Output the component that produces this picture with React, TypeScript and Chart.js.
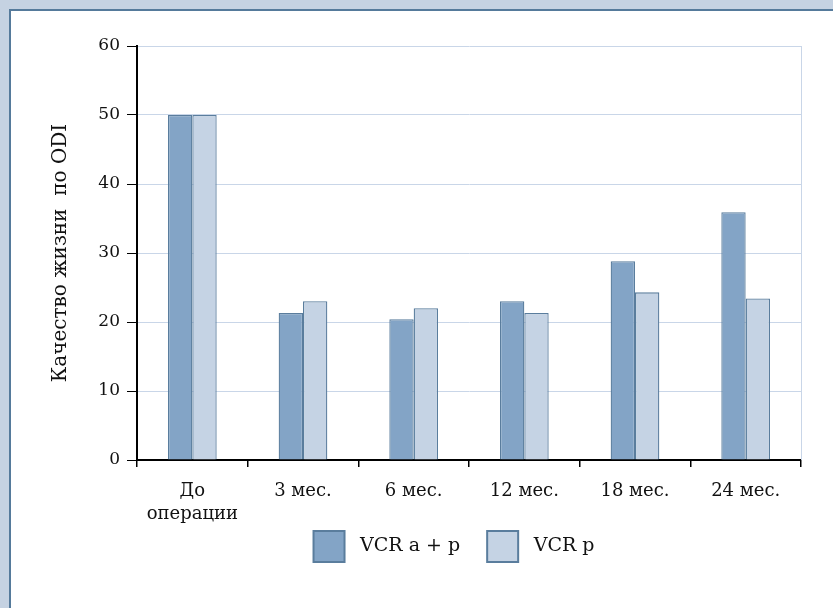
import React, { useEffect, useRef } from "react";
import { Chart, registerables } from "chart.js";

Chart.register(...registerables);

const categories: (string | string[])[] = [["До", "операции"], "3 мес.", "6 мес.", "12 мес.", "18 мес.", "24 мес."];
const seriesAP = [50, 21.3, 20.4, 23.0, 28.8, 35.9];
const seriesP = [50, 23.0, 22.0, 21.3, 24.3, 23.4];
const seriesNames = ["VCR a + p", "VCR p"];
const yTitle = "Качество жизни  по ODI";
const yMin = 0;
const yMax = 60;
const yStep = 10;

const FONT = "'DejaVu Serif', serif";
const TEXT = "#111";
const GRID = "#c9d6e8";
const LEGEND_SHIFT = 48;

const rightLine = {
  id: "rightLine",
  beforeDatasetsDraw(chart: any) {
    const { ctx, chartArea } = chart;
    ctx.save();
    ctx.strokeStyle = GRID;
    ctx.lineWidth = 1;
    ctx.beginPath();
    ctx.moveTo(Math.round(chartArea.right) + 0.5, chartArea.top);
    ctx.lineTo(Math.round(chartArea.right) + 0.5, chartArea.bottom);
    ctx.stroke();
    ctx.restore();
  },
};

const layoutTweak = {
  id: "layoutTweak",
  afterLayout(chart: any) {
    const lg = chart.legend;
    if (lg) {
      lg.left += LEGEND_SHIFT;
      lg.right += LEGEND_SHIFT;
    }
    // let the two-line category labels extend below the x scale box without clipping
    if (chart.scales.x) chart.scales.x.bottom = chart.height;
  },
};

export default function App() {
  const ref = useRef<HTMLCanvasElement>(null);
  useEffect(() => {
    if (!ref.current) return;
    const defaultGen = (Chart as any).defaults.plugins.legend.labels.generateLabels;
    const chart = new Chart(ref.current, {
      type: "bar",
      data: {
        labels: categories as any,
        datasets: [
          {
            label: seriesNames[0],
            data: seriesAP,
            backgroundColor: "#83a4c6",
            borderColor: "#5a7d9d",
            borderWidth: 1.3,
          },
          {
            label: seriesNames[1],
            data: seriesP,
            backgroundColor: "#c5d3e4",
            borderColor: "#5a7d9d",
            borderWidth: 1.3,
          },
        ],
      },
      plugins: [rightLine, layoutTweak],
      options: {
        animation: false,
        responsive: false,
        maintainAspectRatio: false,
        datasets: { bar: { categoryPercentage: 0.44, barPercentage: 1 } },
        layout: { padding: { top: 35, right: 32, left: 0, bottom: 36 } },
        plugins: {
          tooltip: { enabled: false },
          legend: {
            position: "bottom",
            labels: {
              font: { family: FONT, size: 19 },
              color: TEXT,
              boxWidth: 31,
              boxHeight: 31,
              padding: 27,
              generateLabels: (c: any) =>
                defaultGen(c).map((l: any) => ({ ...l, text: " " + l.text, lineWidth: 2 })),
            },
          },
        },
        scales: {
          x: {
            grid: {
              offset: true,
              drawOnChartArea: false,
              drawTicks: true,
              tickLength: 7,
              color: "#000",
              lineWidth: 1.5,
            },
            border: { color: "#000", width: 2 },
            ticks: {
              font: { family: FONT, size: 18, lineHeight: 1.28 },
              color: TEXT,
              padding: 13,
              maxRotation: 0,
              autoSkip: false,
            },
            afterFit: (scale: any) => {
              scale.height = 44;
            },
          },
          y: {
            min: yMin,
            max: yMax,
            grid: {
              color: GRID,
              tickColor: "#000",
              tickLength: 10,
              lineWidth: 1,
            },
            border: { color: "#000", width: 2 },
            ticks: {
              stepSize: yStep,
              font: { family: FONT, size: 17 },
              color: TEXT,
              padding: 7,
            },
            title: {
              display: true,
              text: yTitle,
              font: { family: FONT, size: 20 },
              color: TEXT,
              padding: { top: 38, bottom: 0 },
            },
            afterFit: (scale: any) => {
              scale.width = 126;
            },
          },
        },
      },
    });
    return () => chart.destroy();
  }, []);

  return (
    <div style={{ position: "fixed", left: 0, top: 0, width: 833, height: 608, background: "#c5d2e2", overflow: "hidden" }}>
      <div
        style={{
          position: "absolute",
          left: 9,
          top: 9,
          width: 824,
          height: 599,
          boxSizing: "border-box",
          borderLeft: "2px solid #557a9b",
          borderTop: "2px solid #557a9b",
          background: "#fff",
        }}
      >
        <canvas ref={ref} width={822} height={597} style={{ display: "block", width: 822, height: 597 }} />
      </div>
    </div>
  );
}
